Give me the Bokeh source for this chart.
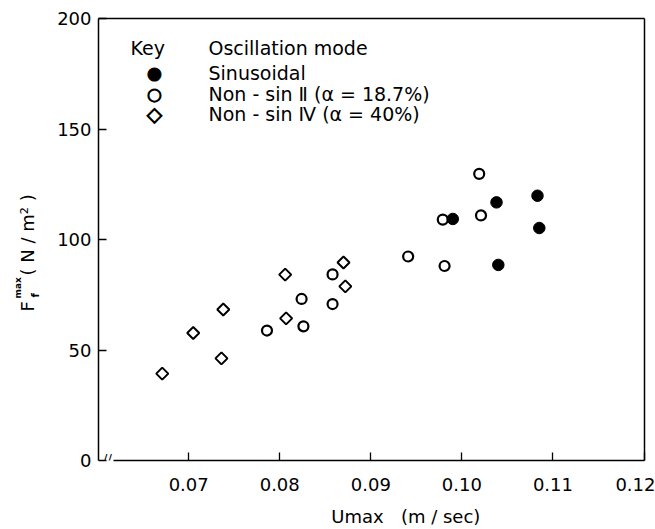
import math
from bokeh.plotting import figure
from bokeh.models import Range1d, FixedTicker, Label, LinearAxis
from bokeh.layouts import row
from bokeh.embed import file_html
from bokeh.resources import INLINE

# ---- data ----
sin_x = [0.0990, 0.1038, 0.1040, 0.1083, 0.1085]
sin_y = [109.3, 116.8, 88.5, 119.8, 105.2]

ns2_x = [0.0786, 0.0824, 0.0826, 0.0858, 0.0858, 0.0941, 0.0979, 0.0981, 0.1019, 0.1021]
ns2_y = [58.8, 73.1, 60.7, 84.2, 70.8, 92.3, 109.0, 88.0, 129.7, 110.9]

ns4_x = [0.0671, 0.0705, 0.0736, 0.0738, 0.0806, 0.0807, 0.0870, 0.0872]
ns4_y = [39.3, 57.7, 46.2, 68.3, 84.1, 64.3, 89.6, 78.8]

x_ticks = [0.07, 0.08, 0.09, 0.10, 0.11, 0.12]
x_tick_labels = ["0.07", "0.08", "0.09", "0.10", "0.11", "0.12"]
y_ticks = [0, 50, 100, 150, 200]
y_tick_labels = ["0", "50", "100", "150", "200"]

series_names = ["Sinusoidal", "Non - sin Ⅱ (α = 18.7%)", "Non - sin Ⅳ (α = 40%)"]
legend_symbols = ["●", "○", "◇"]

FONT = "DejaVu Sans"
LW = 1.5
NB = "\u00a0"

# ---------------- main plot ----------------
p = figure(width=605, height=529, output_backend="svg", toolbar_location=None,
           x_range=Range1d(0.0601, 0.12005), y_range=Range1d(0, 200),
           min_border_left=48, min_border_right=11, min_border_top=18,
           min_border_bottom=68)
p.background_fill_color = "white"
p.border_fill_color = "white"
p.outline_line_color = None
p.grid.visible = False

for ax in (p.xaxis[0], p.yaxis[0]):
    ax.axis_line_width = LW
    ax.major_tick_in = 8
    ax.major_tick_out = 0
    ax.major_tick_line_width = 1.3
    ax.minor_tick_in = 0
    ax.minor_tick_out = 0
    ax.major_label_text_font = FONT
    ax.major_label_text_font_size = "18px"
    ax.major_label_text_color = "black"

p.xaxis.ticker = FixedTicker(ticks=x_ticks)
p.xaxis.major_label_overrides = dict(zip(x_ticks, x_tick_labels))
p.xaxis.major_label_standoff = 17
p.xaxis.bounds = (0.0617, 0.12005)
p.xaxis.axis_label = NB * 12 + "Umax" + NB * 3 + "(m / sec)"
p.xaxis.axis_label_text_font = FONT
p.xaxis.axis_label_text_font_size = "18px"
p.xaxis.axis_label_text_font_style = "normal"
p.xaxis.axis_label_text_color = "black"
p.xaxis.axis_label_standoff = 12
p.yaxis.ticker = FixedTicker(ticks=y_ticks)
p.yaxis.major_label_overrides = dict(zip(y_ticks, y_tick_labels))
p.yaxis.major_label_standoff = 7

# plain frame lines on top and right
for side in ("above", "right"):
    a = LinearAxis(ticker=FixedTicker(ticks=[]), axis_line_width=LW,
                   major_tick_in=0, major_tick_out=0, minor_tick_in=0, minor_tick_out=0,
                   major_label_text_font_size="0px")
    p.add_layout(a, side)

r4 = p.scatter(ns4_x, ns4_y, marker="square", angle=math.pi / 4, size=8.5,
               fill_color="white", line_color="black", line_width=2)
r2 = p.scatter(ns2_x, ns2_y, marker="circle", size=10,
               fill_color="white", line_color="black", line_width=2.2)
r1 = p.scatter(sin_x, sin_y, marker="circle", size=11.5,
               fill_color="black", line_color="black", line_width=1)


def lab(fig, text, x, y, size, angle=0.0, align="left", baseline="middle", **kw):
    fig.add_layout(Label(text=text, x=x, y=y, x_units="screen", y_units="screen",
                         text_font=FONT, text_font_size=size, text_color="black",
                         angle=angle, text_align=align, text_baseline=baseline, **kw))


# key (legend)
lab(p, "Key", 32, 413, "19px")
lab(p, "Oscillation mode", 110, 413, "19px")
row_y = [388, 367, 347]
sym_size = ["17px", "17px", "20px"]
for sym, sz, name, yy in zip(legend_symbols, sym_size, series_names, row_y):
    lab(p, sym, 56, yy, sz, align="center", text_outline_color="black")
    lab(p, name, 110, yy, "19px")

# axis break mark
lab(p, "//", 9, 2, "13px", align="center")

# ---------------- y-axis title panel (frame aligned with main frame) ----------------
pl = figure(width=50, height=529, output_backend="svg", toolbar_location=None,
            x_axis_type=None, y_axis_type=None, min_border=0,
            x_range=Range1d(0, 1), y_range=Range1d(0, 1))
pl.outline_line_color = None
pl.background_fill_color = "white"
pl.border_fill_color = "white"
a = math.pi / 2
lab(pl, "F", 27, 149, "18px", angle=a)
lab(pl, "max", 17, 162, "9px", angle=a, text_font_style="bold")
lab(pl, "f", 35, 163, "10px", angle=a, text_font_style="bold")
lab(pl, "( N / m² )", 27, 185, "18px", angle=a)

layout = row(pl, p, spacing=0)
open("out.html", "w").write(file_html(layout, INLINE))
